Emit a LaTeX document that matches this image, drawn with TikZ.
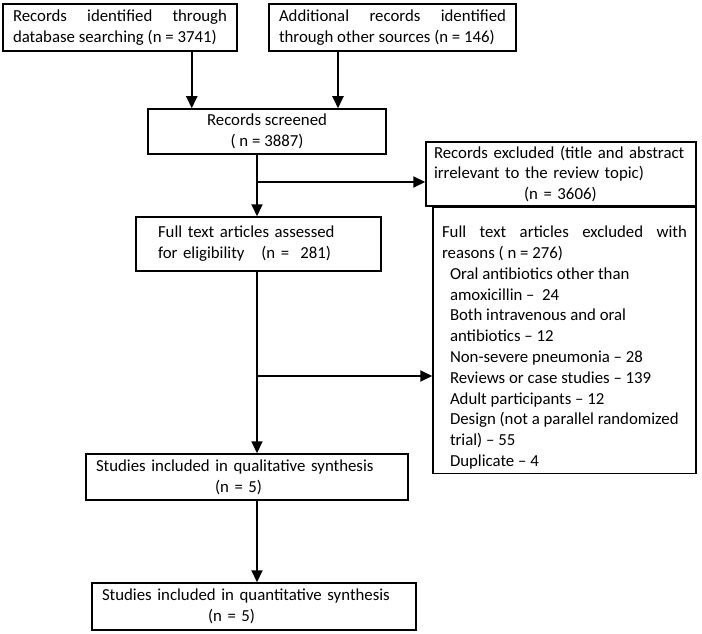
\documentclass[tikz,border=0pt]{standalone}
\usepackage{fontspec}
\setmainfont{Carlito}
\usetikzlibrary{arrows.meta}
\hyphenpenalty=10000
\exhyphenpenalty=10000
\begin{document}
\begin{tikzpicture}[x=1pt,y=-1pt,
  box/.style={rectangle,draw,line width=1.5pt,inner xsep=10pt,inner ysep=4pt,font=\fontsize{16.8}{20.8}\selectfont},
  link/.style={-{Triangle[width=11pt,length=12pt]},line width=2pt}]
  \useasboundingbox (0,0) rectangle (702,634);
  % draw database search box
  \node at(120,27.5)[box,minimum width=234pt,minimum height=47pt,text width=214pt,align=justify](database){Records identified through\linebreak database searching (n = 3741)};
  % draw other sources box
  \node at(392.5,27.5)[box,minimum width=247pt,minimum height=47pt,text width=227pt,align=justify](other){Additional records identified\linebreak through other sources (n = 146)};
  % draw screened box
  \node at(267,131.5)[box,minimum width=238pt,minimum height=45pt,align=center](screened){Records screened\\( n = 3887)};
  % draw first excluded box
  \node at(561,174)[box,minimum width=270pt,minimum height=64pt,inner xsep=8pt,text width=254pt,align=left](recexcl){Records excluded (title and abstract\\irrelevant to the review topic)\\\hspace*{90pt}(n = 3606)};
  % draw full text box
  \node at(258.5,244)[box,minimum width=245pt,minimum height=54pt,inner xsep=22pt,text width=201pt,align=left](fulltext){Full text articles assessed\\ for eligibility\ \ \ (n =\ \ 281)};
  % draw second excluded box
  \node at(564.5,340.5)[box,minimum width=263pt,minimum height=263pt,inner xsep=9pt,text width=245pt,align=justify](ftexcl){\rule{0pt}{26pt}Full text articles excluded with\linebreak reasons ( n = 276)\\
    \hspace*{8pt}Oral antibiotics other than\\
    \hspace*{8pt}amoxicillin --\ \ 24\\
    \hspace*{8pt}Both intravenous and oral\\
    \hspace*{8pt}antibiotics -- 12\\
    \hspace*{8pt}Non-severe pneumonia -- 28\\
    \hspace*{8pt}Reviews or case studies -- 139\\
    \hspace*{8pt}Adult participants -- 12\\
    \hspace*{8pt}Design (not a parallel randomized\\
    \hspace*{8pt}trial) -- 55\\
    \hspace*{8pt}Duplicate -- 4};
  % draw qualitative box
  \node at(247,477)[box,minimum width=322pt,minimum height=46pt,text width=302pt,align=left](qual){Studies included in qualitative synthesis\\\hspace*{119pt}(n = 5)};
  % draw quantitative box
  \node at(254,606.5)[box,minimum width=324pt,minimum height=47pt,text width=304pt,align=left](quant){Studies included in quantitative synthesis\\\hspace*{106pt}(n = 5)};
  % draw arrows into screened box
  \coordinate (dbfoot) at ([xshift=-46pt]database.south east);
  \coordinate (otherfoot) at ([xshift=-54.5pt]other.south);
  \draw [link](dbfoot) -- (dbfoot |- screened.north);
  \draw [link](otherfoot) -- (otherfoot |- screened.north);
  % draw main line down to full text box
  \coordinate (spine) at ([xshift=-10pt]screened.south);
  \draw [link](spine) -- (spine |- fulltext.north);
  \draw [link]([yshift=-8pt]recexcl.west -| spine) -- ([yshift=-8pt]recexcl.west);
  % draw main line down to qualitative box
  \draw [link](fulltext.south -| spine) -- (qual.north -| spine);
  \draw [link]([yshift=-35.5pt]ftexcl.west -| spine) -- ([yshift=-35.5pt]ftexcl.west);
  % draw arrow from qualitative to quantitative
  \draw [link](qual.south -| spine) -- (quant.north -| spine);
\end{tikzpicture}
\end{document}
